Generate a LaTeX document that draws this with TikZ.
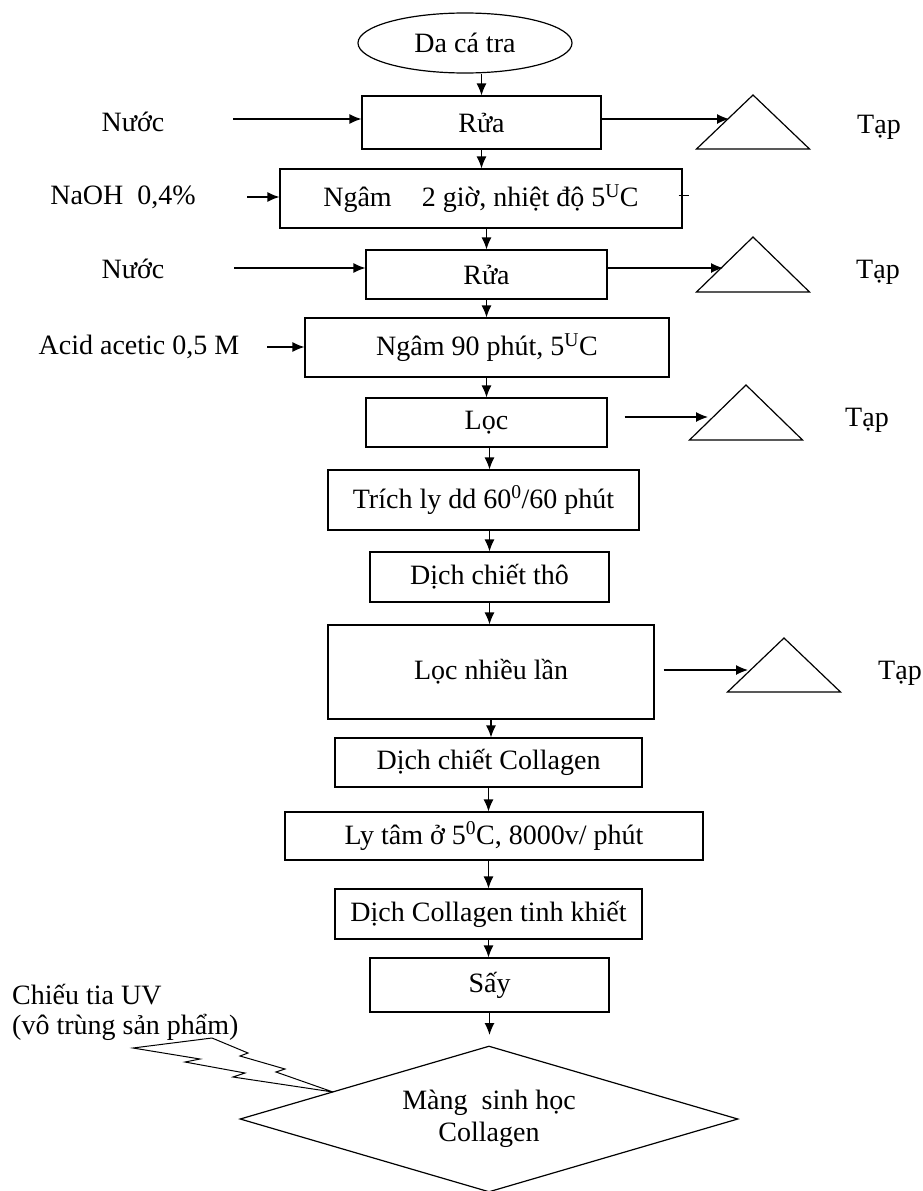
\documentclass[tikz,border=0pt]{standalone}
\usepackage{fontspec}
\setmainfont{Liberation Serif}
\usetikzlibrary{shapes.geometric, arrows.meta, positioning}

\begin{document}
\begin{tikzpicture}[x=1pt, y=-1pt,
    procbox/.style={rectangle, draw=black, line width=1.2pt, text centered, inner sep=2pt, font=\fontsize{28}{30}\selectfont},
    sourcebox/.style={ellipse, draw=black, line width=1.2pt, minimum width=214pt, minimum height=60pt, inner sep=0pt, font=\fontsize{28}{30}\selectfont},
    productbox/.style={diamond, draw=black, line width=1.2pt, aspect=3.4, minimum width=498pt, minimum height=146pt, inner sep=0pt, align=center, font=\fontsize{28}{36}\selectfont},
    sidetext/.style={inner sep=0pt, font=\fontsize{28}{30}\selectfont},
    wastetri/.style={draw=black, line width=1.2pt, line join=miter},
    arrow/.style={-{Latex[length=12pt, width=10pt]}, line width=1.2pt}
]
\useasboundingbox (0,0) rectangle (923,1191);

% Main line
\node[sourcebox] (daca) at (465,43) {Da cá tra};
\node[procbox, minimum width=239pt, minimum height=53pt] (rua1) at (481.5,122.5) {Rửa};
\node[procbox, minimum width=402pt, minimum height=59pt] (ngam1) at (481,198.5) {Ngâm\hspace{30pt}2 giờ, nhiệt độ 5\textsuperscript{U}C};
\node[procbox, minimum width=241pt, minimum height=49pt] (rua2) at (486.5,274.5) {Rửa};
\node[procbox, minimum width=364pt, minimum height=59pt] (ngam2) at (487,347.5) {Ngâm 90 phút, 5\textsuperscript{U}C};
\node[procbox, minimum width=241pt, minimum height=49pt] (loc) at (486.5,422.5) {Lọc};
\node[procbox, minimum width=311pt, minimum height=60pt] (trich) at (483.5,500) {Trích ly dd 60\textsuperscript{0}/60 phút};
\node[procbox, minimum width=239pt, minimum height=50pt] (dcth) at (489.5,577) {Dịch chiết thô};
\node[procbox, minimum width=326pt, minimum height=94pt] (locnl) at (491,672) {Lọc nhiều lần};
\node[procbox, minimum width=307pt, minimum height=49pt] (dcc) at (488.5,762.5) {Dịch chiết Collagen};
\node[procbox, minimum width=418pt, minimum height=48pt] (lytam) at (494,836) {Ly tâm ở 5\textsuperscript{0}C, 8000v/ phút};
\node[procbox, minimum width=307pt, minimum height=50pt] (dctk) at (488.5,914) {Dịch Collagen tinh khiết};
\node[procbox, minimum width=239pt, minimum height=54pt] (say) at (489.5,985) {Sấy};
\node[productbox] (mang) at (489,1119) {\raisebox{-4pt}{Màng\ \ sinh học}\\Collagen};
\coordinate (sayend) at (489.5,1035);

\draw[arrow] (rua1.north |- daca.south) -- (rua1.north);
\draw[arrow] (rua1.south) -- (rua1.south |- ngam1.north);
\draw[arrow] (rua2.north |- ngam1.south) -- (rua2.north);
\draw[arrow] (rua2.south) -- (rua2.south |- ngam2.north);
\draw[arrow] (loc.north |- ngam2.south) -- (loc.north);
\draw[arrow] (loc.south -| dcth.north) -- (trich.north -| dcth.north);
\draw[arrow] (trich.south -| dcth.north) -- (dcth.north);
\draw[arrow] (dcth.south) -- (dcth.south |- locnl.north);
\draw[arrow] (locnl.south) -- (locnl.south |- dcc.north);
\draw[arrow] (dcc.south) -- (dcc.south |- lytam.north);
\draw[arrow] (dctk.north |- lytam.south) -- (dctk.north);
\draw[arrow] (dctk.south) -- (dctk.south |- say.north);
\draw[arrow] (say.south) -- (sayend);

% Inputs
\node[sidetext] (nuoc1) at (133,122) {Nước};
\node[sidetext] (naoh) at (123,197) {NaOH\ \ 0,4\%};
\node[sidetext] (nuoc2) at (133,269) {Nước};
\node[sidetext] (acid) at (139,347) {Acid acetic 0,5 M};
\coordinate (in1) at (233,119);
\coordinate (in2) at (247,197);
\coordinate (in3) at (234,268);
\coordinate (in4) at (267,347);
\draw[arrow] (in1) -- (in1 -| rua1.west);
\draw[arrow] (in2) -- (in2 -| ngam1.west);
\draw[arrow] (in3) -- (in3 -| rua2.west);
\draw[arrow] (in4) -- (in4 -| ngam2.west);
\draw[line width=1.2pt] (ngam1.east) ++(-4,-3) -- ++(10,0);

% Waste
\coordinate (t1) at (753,95);
\coordinate (t2) at (753,237);
\coordinate (t3) at (746,385);
\coordinate (t4) at (784,638);
\draw[wastetri] (t1) -- ++(-56.5,54) -- ++(113,0) -- cycle;
\draw[wastetri] (t2) -- ++(-56.5,55) -- ++(113,0) -- cycle;
\draw[wastetri] (t3) -- ++(-56.5,55) -- ++(113,0) -- cycle;
\draw[wastetri] (t4) -- ++(-56.5,54) -- ++(113,0) -- cycle;
\coordinate (w1) at (729,119);
\coordinate (w2) at (723,268);
\coordinate (w3) at (708,417);
\coordinate (w4) at (748,670);
\draw[arrow] (rua1.east |- w1) -- (w1);
\draw[arrow] (rua2.east |- w2) -- (w2);
\draw[arrow] ([xshift=17pt]loc.east |- w3) -- (w3);
\draw[arrow] ([xshift=9pt]locnl.east |- w4) -- (w4);
\node[sidetext] (tap1) at (879,127) {Tạp};
\node[sidetext] (tap2) at (878,272) {Tạp};
\node[sidetext] (tap3) at (867,420) {Tạp};
\node[sidetext] (tap4) at (900,673) {Tạp};

% UV
\node[sidetext, align=left, anchor=west] (uv) at (12,1012) {Chiếu tia UV\\(vô trùng sản phẩm)};
\draw[line width=1pt, line join=miter] (133,1048) -- (212,1038) -- (248,1053) -- (240,1056) -- (285,1069) -- (276,1072) -- (333,1092) -- (233,1077) -- (245,1073) -- (185,1062) -- (200,1059) -- cycle;
\end{tikzpicture}
\end{document}
